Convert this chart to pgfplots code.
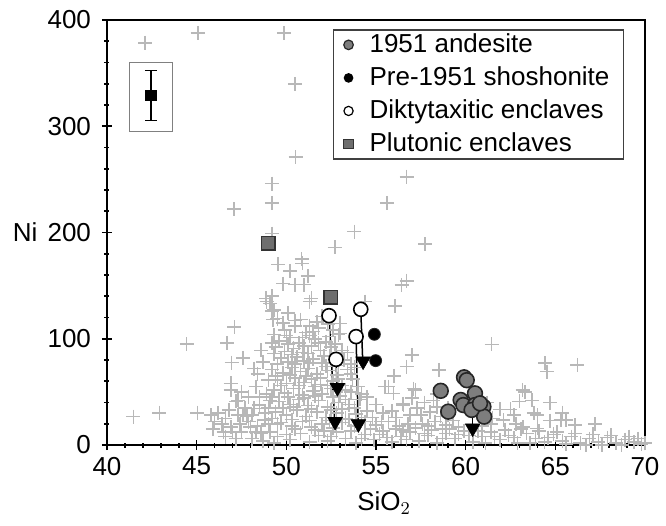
\documentclass[border=0pt]{standalone}
\usepackage{pgfplots}
\pgfplotsset{compat=1.18}
\usepackage{pgfplotstable}
\usepackage{fontspec}
\setmainfont{Liberation Sans}
\definecolor{crossgray}{RGB}{184,184,184}
\definecolor{andgray}{RGB}{125,125,125}
\definecolor{sqgray}{RGB}{110,110,110}
\pgfplotstableread{
x y
42.12 378.6
45.06 388
49.87 388
50.47 340
50.52 270.8
49.19 246
49.19 228
47.08 222
56.71 252.5
55.6 228
53.8 200.8
57.74 189
56.43 150.6
56.71 154.6
56.06 130.8
54.39 134.9
57.0 84.7
56.71 73.7
55.69 54.9
56.53 37.6
63.18 51.8
41.47 26.7
42.92 30.4
45.04 30.4
44.44 95
61.45 94.7
64.43 76.9
64.52 69
66.23 75.3
53.0 114.5
48.9 135
49.1 133
49.2 126
49.25 118
49.2 140
48.87 138
49.83 152
49.55 170
50.5 151
51.0 151
51.4 138
51.3 135
50.85 175
50.9 171
50.2 164
51.2 159
52.7 186
49.2 199
49.5 119
50.1 124
50.8 118
51.3 112
52.0 121
49.3 127
49.9 108
50.5 112
51.1 106
51.8 110
52.6 108
53.0 105
49.6 98
50.2 101
50.7 96
51.3 103
51.6 100
52.2 97
52.9 104
49.4 92
49.9 88
50.4 91
50.9 87
51.4 93
51.9 89
52.5 92
53.1 89
49.7 82
50.1 78
50.6 83
51.0 79
51.5 81
52.0 77
52.4 84
53.2 80
53.6 76
49.2 71
49.8 68
50.3 73
50.8 69
51.2 72
51.7 67
52.3 70
52.8 66
53.4 71
49.5 61
50.0 58
50.5 63
51.0 59
51.4 62
51.9 57
52.6 60
53.1 56
53.7 62
49.3 52
49.9 49
50.4 53
50.9 47
51.5 51
52.0 48
52.5 53
53.0 46
53.6 50
49.6 41
50.2 38
50.7 43
51.2 37
51.8 42
52.3 36
52.9 40
53.5 38
54.1 43
49.4 31
50.0 28
50.6 33
51.1 27
51.7 31
52.2 26
52.8 30
53.3 25
53.9 29
54.5 32
49.7 21
50.3 18
50.9 22
51.4 17
52.0 20
52.6 16
53.1 21
53.8 18
54.4 22
55.0 19
49.8 115
50.5 117
51.7 116
52.3 114
49.3 104
50.0 103
50.9 101
51.5 107
52.4 102
49.2 96
50.1 95
51.0 93
51.8 96
52.7 95
49.3 86
50.3 85
51.2 86
52.1 84
52.8 85
53.4 87
49.5 76
50.5 76
51.3 77
52.2 74
52.9 75
53.8 73
49.4 65
50.2 66
51.1 65
51.9 63
52.9 62
53.6 67
49.7 56
50.7 56
51.6 55
52.3 56
53.3 52
54.0 55
49.2 45
50.1 45
51.0 44
51.6 46
52.6 45
53.3 43
54.2 48
49.8 35
50.4 36
51.4 34
52.5 33
53.1 34
53.8 35
49.2 25
50.3 24
51.3 23
52.4 23
53.5 24
54.2 26
46.2 30
46.4 20
46.9 17
47.3 42
47.3 28
47.8 27
48.2 34.5
48.5 37.6
48.8 23.5
48.6 11
48.0 17
47.6 28
49.5 20
47.2 41
46.9 58
48.4 67
48.6 89
49.0 61
48.7 78
47.6 82
46.95 77.5
46.7 96
47.1 111
46.9 52
47.9 45
48.3 55
48.9 48
47.5 12
46.6 8
48.1 6
49.0 35
48.2 72
49.1 12
45.8 28
46.0 22
46.6 25
46.8 33
47.0 12
47.4 20
47.7 35
47.9 22
48.1 28
48.4 18
48.5 45
48.8 30
49.0 20
49.1 42
47.5 50
46.5 12
45.9 15
47.2 6
48.3 12
48.7 4
49.3 2
50.0 10
49.5 8
50.2 5
50.8 11
51.3 3
51.8 9
52.3 4
52.8 12
53.3 6
53.9 2
54.4 10
54.9 5
55.4 13
55.9 3
56.4 8
56.9 12
57.4 4
57.9 9
58.4 2
58.9 11
59.4 6
59.9 13
60.4 3
60.9 8
61.4 12
61.9 5
62.4 9
62.9 2
63.4 11
63.9 6
64.4 3
64.9 10
65.4 4
65.9 8
66.4 2
66.9 6
67.4 3
67.9 7
68.4 2
68.9 5
69.4 3
69.8 1
70.0 2
50.5 15
51.6 14
52.5 8
53.6 13
54.7 15
55.6 7
56.1 15
57.2 16
58.1 14
59.1 15
60.2 9
61.1 2
62.2 14
63.1 15
64.1 13
65.1 12
66.1 11
67.1 10
68.1 9
69.1 8
64.6 7
62.7 7
60.7 13
58.7 6
56.7 5
54.2 6
52.1 13
55.2 10
57.7 11
59.6 10
61.6 8
63.6 2
65.6 1
67.6 0
69.6 6
68.7 0
66.7 0
54.5 45
55.0 38
55.4 30
55.97 48.6
56.5 39
56.9 28
57.1 53
57.6 20
58.0 31
58.6 27
58.9 19
59.3 23
55.7 22
56.3 18
57.3 35
58.2 42
54.8 26
56.0 65
57.2 52
57.0 44
55.5 55
59.6 17
59.0 35
58.4 48
58.5 70.6
55.3 22
56.1 26
56.8 20
57.5 28
58.3 22
59.0 28
57.9 18
56.5 14
58.7 15
55.9 32
57.7 40
58.4 36
61.9 33.6
62.5 33.6
62.7 28
63.8 30
64.0 28
65.4 30.4
65.3 23.5
65.6 23.5
66.1 18.8
67.2 19.5
63.2 17
64.0 15.7
62.1 23.5
64.7 22.9
63.3 50
63.0 41
63.7 42
64.7 40
61.5 25
62.8 20
61.2 40
60.9 18
61.4 20
}\crosses
\begin{document}
\begin{tikzpicture}
\begin{axis}[
  scale only axis, width=269pt, height=212.5pt,
  xmin=40, xmax=70, ymin=0, ymax=400,
  xtick={40,45,...,70}, ytick={0,100,...,400},
  minor x tick num=4, minor y tick num=4,
  tick pos=left, tick align=center,
  major tick length=5pt, minor tick length=2.5pt,
  every tick/.style={black, line width=0.8pt},
  axis line style={line width=1pt},
  clip=false, axis on top,
  /pgf/number format/assume math mode=true,
  ticklabel style={font=\fontsize{13}{15}\selectfont},
  yticklabel style={xshift=-2pt},
  xlabel={SiO$_2$}, ylabel={Ni},
  label style={font=\fontsize{13}{15}\selectfont},
  xlabel style={at={(axis description cs:0.515,-0.136)}, anchor=center},
  ylabel style={rotate=-90, at={(axis description cs:-0.152,0.5)}, anchor=center},
  legend style={at={(axis description cs:0.42,0.978)}, anchor=north west,
    draw=black!75, line width=0.6pt, font=\fontsize{13}{15}\selectfont,
    row sep=1.6pt, inner xsep=5pt, inner ysep=0pt},
  legend image code/.code={\path[draw=none,fill=none] (0pt,-3pt) rectangle (11pt,3pt); \draw[#1] plot coordinates {(2.5pt,0pt)};},
  legend cell align=left,
]
\addplot[only marks, mark=+, mark size=3.5pt, color=crossgray, mark options={line width=0.8pt}, forget plot] table {\crosses};
% inset error bar box
\addplot[gray, line width=0.5pt, forget plot] coordinates {(41.28,294.6) (43.68,294.6) (43.68,360) (41.28,360) (41.28,294.6)};
\addplot[only marks, mark=square*, mark size=2.6pt, black, forget plot,
  error bars/.cd, y dir=both, y explicit, error bar style={line width=0.8pt}, error mark options={rotate=90, mark size=3pt, line width=0.8pt}]
  coordinates {(42.45,329) +- (0,23.5)};
% plutonic enclaves
\addplot[only marks, mark=square*, mark size=3.4pt, mark options={fill=sqgray, draw=black!80, line width=0.7pt}, forget plot] coordinates {(48.98,190) (52.49,139)};
% diktytaxitic enclaves
\addplot[only marks, mark=*, mark size=3.5pt, mark options={fill=white, draw=black, line width=0.8pt}, forget plot] coordinates {(52.38,121.7) (52.77,80.6) (53.89,102) (54.15,127.7)};
% arrows: shafts
\addplot[black, line width=0.75pt, forget plot] coordinates {(52.38,121.7) (52.71,18)};
\addplot[black, line width=0.75pt, forget plot] coordinates {(52.77,80.6) (52.84,51)};
\addplot[black, line width=0.75pt, forget plot] coordinates {(53.89,102) (54.01,16)};
\addplot[black, line width=0.75pt, forget plot] coordinates {(54.15,127.7) (54.27,75)};
% pre-1951 shoshonite
\addplot[only marks, mark=*, mark size=3pt, mark options={fill=black, draw=black!85}, forget plot] coordinates {(54.91,104.2) (54.98,79.4)};
% 1951 andesite
\addplot[only marks, mark=*, mark size=3.7pt, mark options={fill=andgray, draw=black!85, line width=0.8pt}, forget plot] coordinates {
(58.61,51) (59.91,63.7) (60.06,61) (60.52,48.6) (59.03,31.4) (59.72,42.4) (59.87,37.6) (60.52,37.6) (60.99,36) (61.03,26.7) (60.33,33) (60.8,39.2)};
\addplot[black, line width=0.75pt, forget plot] coordinates {(60.39,30) (60.39,12)};
% arrow heads (tips at 14, 46, 12, 71, 8)
\addplot[only marks, mark=triangle*, mark size=4.2pt, mark options={rotate=180, fill=black, draw=black, line width=0.3pt}, forget plot] coordinates {
(52.72,21.9) (52.85,53.9) (54.02,19.9) (54.28,78.9) (60.39,15.9)};
% legend
\addlegendimage{only marks, mark=*, mark size=2.4pt, mark options={fill=andgray, draw=black!85, line width=0.6pt}}
\addlegendentry{1951 andesite}
\addlegendimage{only marks, mark=*, mark size=2.1pt, mark options={fill=black, draw=black}}
\addlegendentry{Pre-1951 shoshonite}
\addlegendimage{only marks, mark=*, mark size=2.3pt, mark options={fill=white, draw=black, line width=0.6pt}}
\addlegendentry{Diktytaxitic enclaves}
\addlegendimage{only marks, mark=square*, mark size=2.4pt, mark options={fill=sqgray, draw=black!80, line width=0.5pt}}
\addlegendentry{Plutonic enclaves}
\end{axis}
\pgfresetboundingbox
\useasboundingbox (-53.5pt,-40.5pt) rectangle (279.5pt,222.5pt);
\end{tikzpicture}
\end{document}
